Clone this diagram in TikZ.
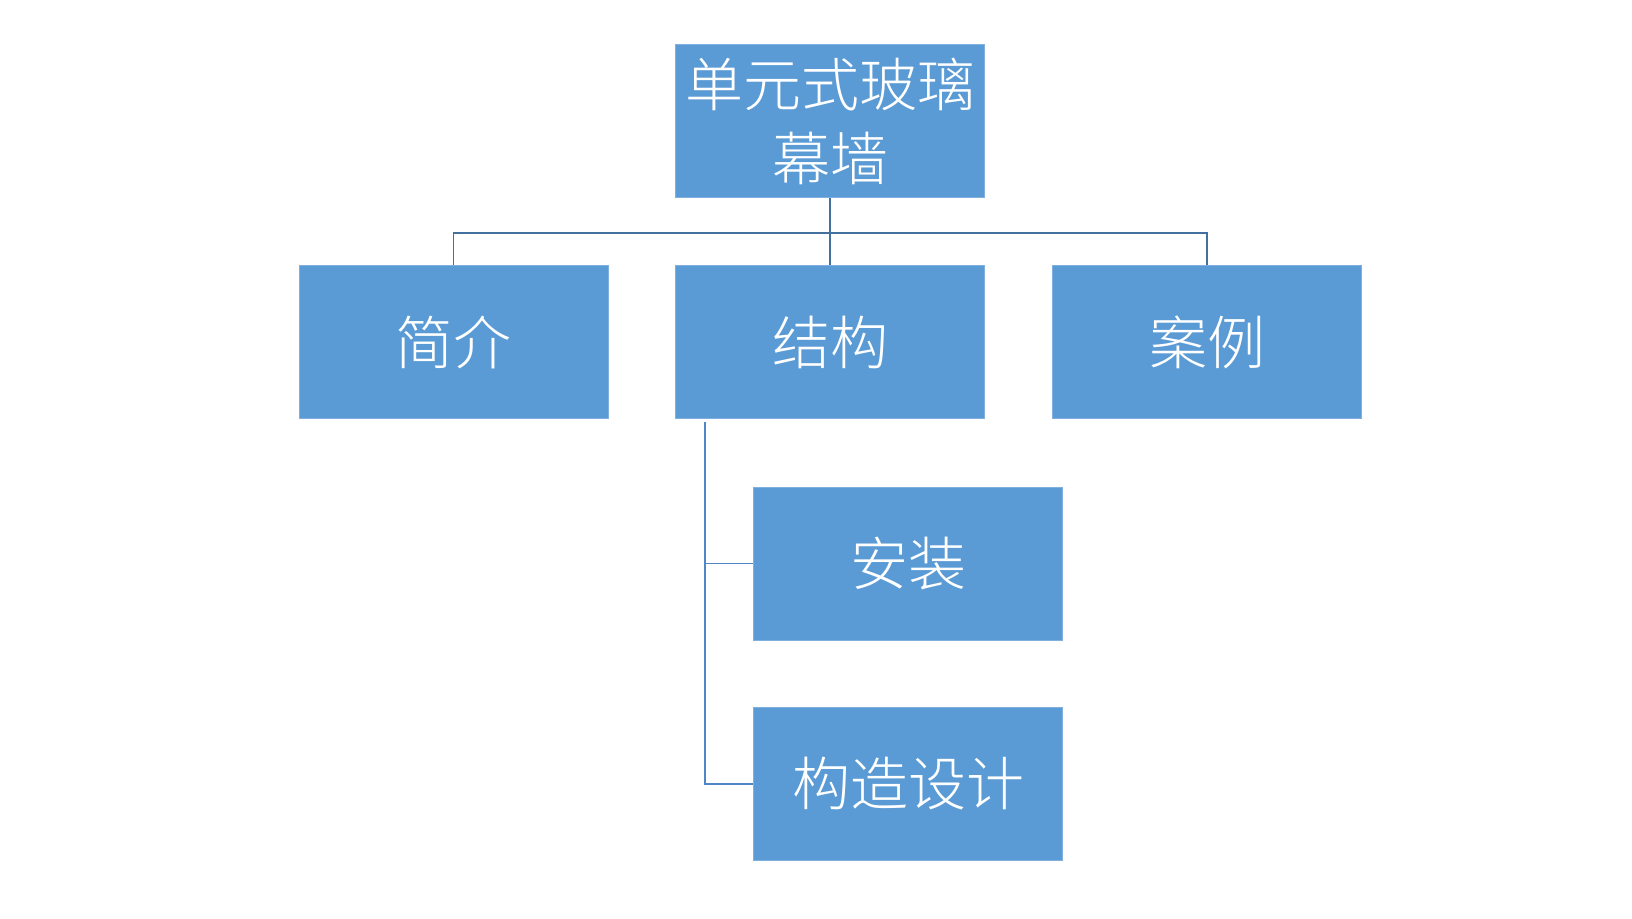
\documentclass[tikz,border=0pt]{standalone}
\usepackage{fontspec}
\newfontfamily\cjk{Noto Sans CJK SC Light}
\definecolor{boxfill}{HTML}{5B9BD5}
\definecolor{boxedge}{HTML}{7FB0E0}
\definecolor{topline}{HTML}{41719C}
\definecolor{subline}{HTML}{4F86C6}
\begin{document}
\begin{tikzpicture}[x=1pt,y=-1pt,
  orgbox/.style={draw=boxedge, line width=1pt, fill=boxfill, text=white,
    minimum width=309pt, minimum height=153pt, inner sep=0pt, align=center,
    font=\cjk\fontsize{58}{74}\selectfont},
  topconn/.style={draw=topline, line width=1.6pt},
  subconn/.style={draw=subline, line width=1.6pt}]
\useasboundingbox (0,0) rectangle (1632,918);
\node[orgbox] (top) at (830,121) {单元式玻璃\\幕墙};
\node[orgbox] (jj) at (453.5,342) {简介};
\node[orgbox] (jg) at (830,342) {结构};
\node[orgbox] (al) at (1207,342) {案例};
\node[orgbox] (az) at (908,563.5) {安装};
\node[orgbox] (gz) at (908,784) {构造设计};
\coordinate (bus) at (830,233);
\coordinate (sp) at (705,422);
\draw[topconn] (top.south) -- (bus);
\draw[topconn] (jj.north) -- (jj.north |- bus) -- (al.north |- bus) -- (al.north);
\draw[topconn] (bus) -- (jg.north);
\draw[subconn] (sp) |- (az.west);
\draw[subconn] (sp) |- (gz.west);
\end{tikzpicture}
\end{document}
